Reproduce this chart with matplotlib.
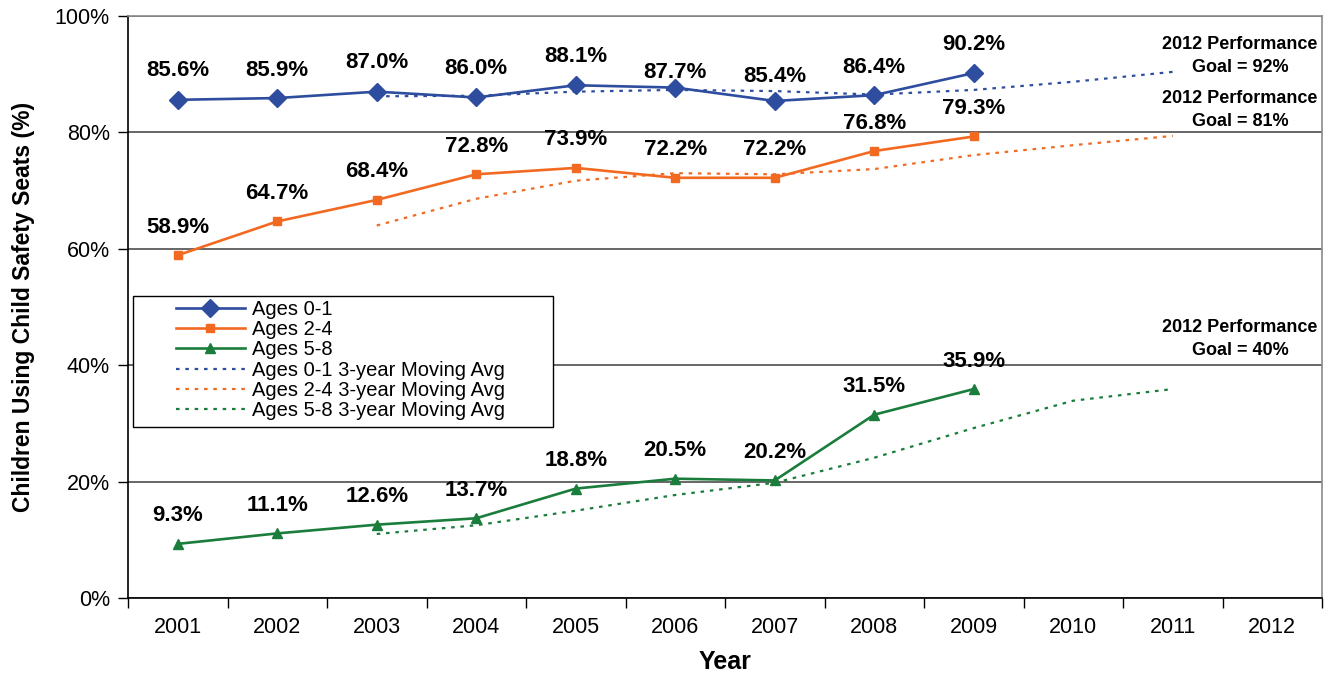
import matplotlib
matplotlib.use("Agg")
import matplotlib.pyplot as plt
from matplotlib.patches import Rectangle
from matplotlib.ticker import FixedLocator, PercentFormatter

YEARS = ["2001", "2002", "2003", "2004", "2005", "2006",
         "2007", "2008", "2009", "2010", "2011", "2012"]

# observed values, 2001-2009
AGES_0_1 = [85.6, 85.9, 87.0, 86.0, 88.1, 87.7, 85.4, 86.4, 90.2]
AGES_2_4 = [58.9, 64.7, 68.4, 72.8, 73.9, 72.2, 72.2, 76.8, 79.3]
AGES_5_8 = [9.3, 11.1, 12.6, 13.7, 18.8, 20.5, 20.2, 31.5, 35.9]

# 3-year moving averages, 2003-2011
MA_0_1 = [86.2, 86.3, 87.0, 87.3, 87.1, 86.5, 87.3, 88.7, 90.4]
MA_2_4 = [64.0, 68.6, 71.7, 73.0, 72.8, 73.7, 76.1, 77.8, 79.4]
MA_5_8 = [11.0, 12.5, 15.0, 17.7, 19.8, 24.1, 29.2, 33.9, 35.9]

GOALS = ["2012 Performance\nGoal = 92%",
         "2012 Performance\nGoal = 81%",
         "2012 Performance\nGoal = 40%"]

BLUE = "#2E4D9E"
ORANGE = "#F26A22"
GREEN = "#1B7D3C"
GRID = "#5a5a5a"

plt.rcParams["font.family"] = ["Liberation Sans", "DejaVu Sans"]

W, H = 1326, 677
fig = plt.figure(figsize=(W / 100, H / 100), dpi=100)
ax = fig.add_axes([128 / W, 1 - 598 / H, (1322 - 128) / W, (598 - 16) / H])

x_obs = list(range(len(AGES_0_1)))
x_ma = list(range(2, 2 + len(MA_0_1)))

ax.plot(x_obs, AGES_0_1, color=BLUE, lw=1.9, marker="D", ms=9,
        label="Ages 0-1", zorder=4)
ax.plot(x_obs, AGES_2_4, color=ORANGE, lw=1.9, marker="s", ms=6,
        label="Ages 2-4", zorder=4)
ax.plot(x_obs, AGES_5_8, color=GREEN, lw=1.9, marker="^", ms=7.5,
        label="Ages 5-8", zorder=4)
dots = (0, (1.6, 2.6))
ax.plot(x_ma, MA_0_1, color=BLUE, lw=1.6, ls=dots,
        label="Ages 0-1 3-year Moving Avg", zorder=3)
ax.plot(x_ma, MA_2_4, color=ORANGE, lw=1.6, ls=dots,
        label="Ages 2-4 3-year Moving Avg", zorder=3)
ax.plot(x_ma, MA_5_8, color=GREEN, lw=1.6, ls=dots,
        label="Ages 5-8 3-year Moving Avg", zorder=3)

# data labels, offsets in pixels above the marker
offs_blue = [29, 28, 29, 29, 29, 15, 24, 28, 29]
offs_other = [28] * 9
for series, offs in ((AGES_0_1, offs_blue), (AGES_2_4, offs_other),
                     (AGES_5_8, offs_other)):
    for xi, v, o in zip(x_obs, series, offs):
        ax.annotate(f"{v:.1f}%", (xi, v), xytext=(0, o * 0.72),
                    textcoords="offset points", ha="center", va="center",
                    fontsize=16, fontweight="bold", color="black")

# goal notes
for txt, (gx, gy) in zip(GOALS, [(1240, 56), (1240, 110), (1240, 339)]):
    fig.text(gx / W, 1 - gy / H, txt, ha="center", va="center",
             multialignment="center", fontsize=13, fontweight="bold",
             linespacing=1.45)

ax.set_xlim(-0.5, 11.5)
ax.set_ylim(0, 100)
ax.set_xticks(range(len(YEARS)))
ax.set_xticklabels(YEARS, fontsize=15.5)
ax.xaxis.set_minor_locator(FixedLocator([i - 0.5 for i in range(13)]))
ax.tick_params(axis="x", which="major", length=0, pad=14)
ax.tick_params(axis="x", which="minor", length=7, width=1, direction="out")
ax.set_yticks(range(0, 101, 20))
ax.yaxis.set_major_formatter(PercentFormatter(decimals=0))
ax.tick_params(axis="y", length=7, width=1, labelsize=15.5, pad=6)

ax.grid(axis="y", color=GRID, lw=1.3)
ax.set_axisbelow(True)
for s in ("left", "bottom"):
    ax.spines[s].set_color("black")
    ax.spines[s].set_linewidth(1.2)
for s in ("top", "right"):
    ax.spines[s].set_color("#8a8a8a")
    ax.spines[s].set_linewidth(1.2)

ax.set_ylabel("Children Using Child Safety Seats (%)", fontsize=16.5,
              fontweight="bold", labelpad=14)
ax.set_xlabel("Year", fontsize=18, fontweight="bold", labelpad=8)

# legend frame drawn separately so the entries can sit indented inside it
bx0, bx1, by0, by1 = 133, 553, 296, 427
ax.add_patch(Rectangle((bx0 / W, 1 - by1 / H), (bx1 - bx0) / W,
                       (by1 - by0) / H, transform=fig.transFigure,
                       facecolor="white", edgecolor="black", lw=1.0,
                       zorder=5))
leg = ax.legend(loc="upper left", bbox_to_anchor=(172 / W, 1 - 296 / H),
                bbox_transform=fig.transFigure, fontsize=14.5,
                frameon=False, handlelength=3.4, labelspacing=0.06,
                borderpad=0.2, handletextpad=0.35, borderaxespad=0)
leg.set_zorder(6)

fig.savefig("out.png", dpi=100)
